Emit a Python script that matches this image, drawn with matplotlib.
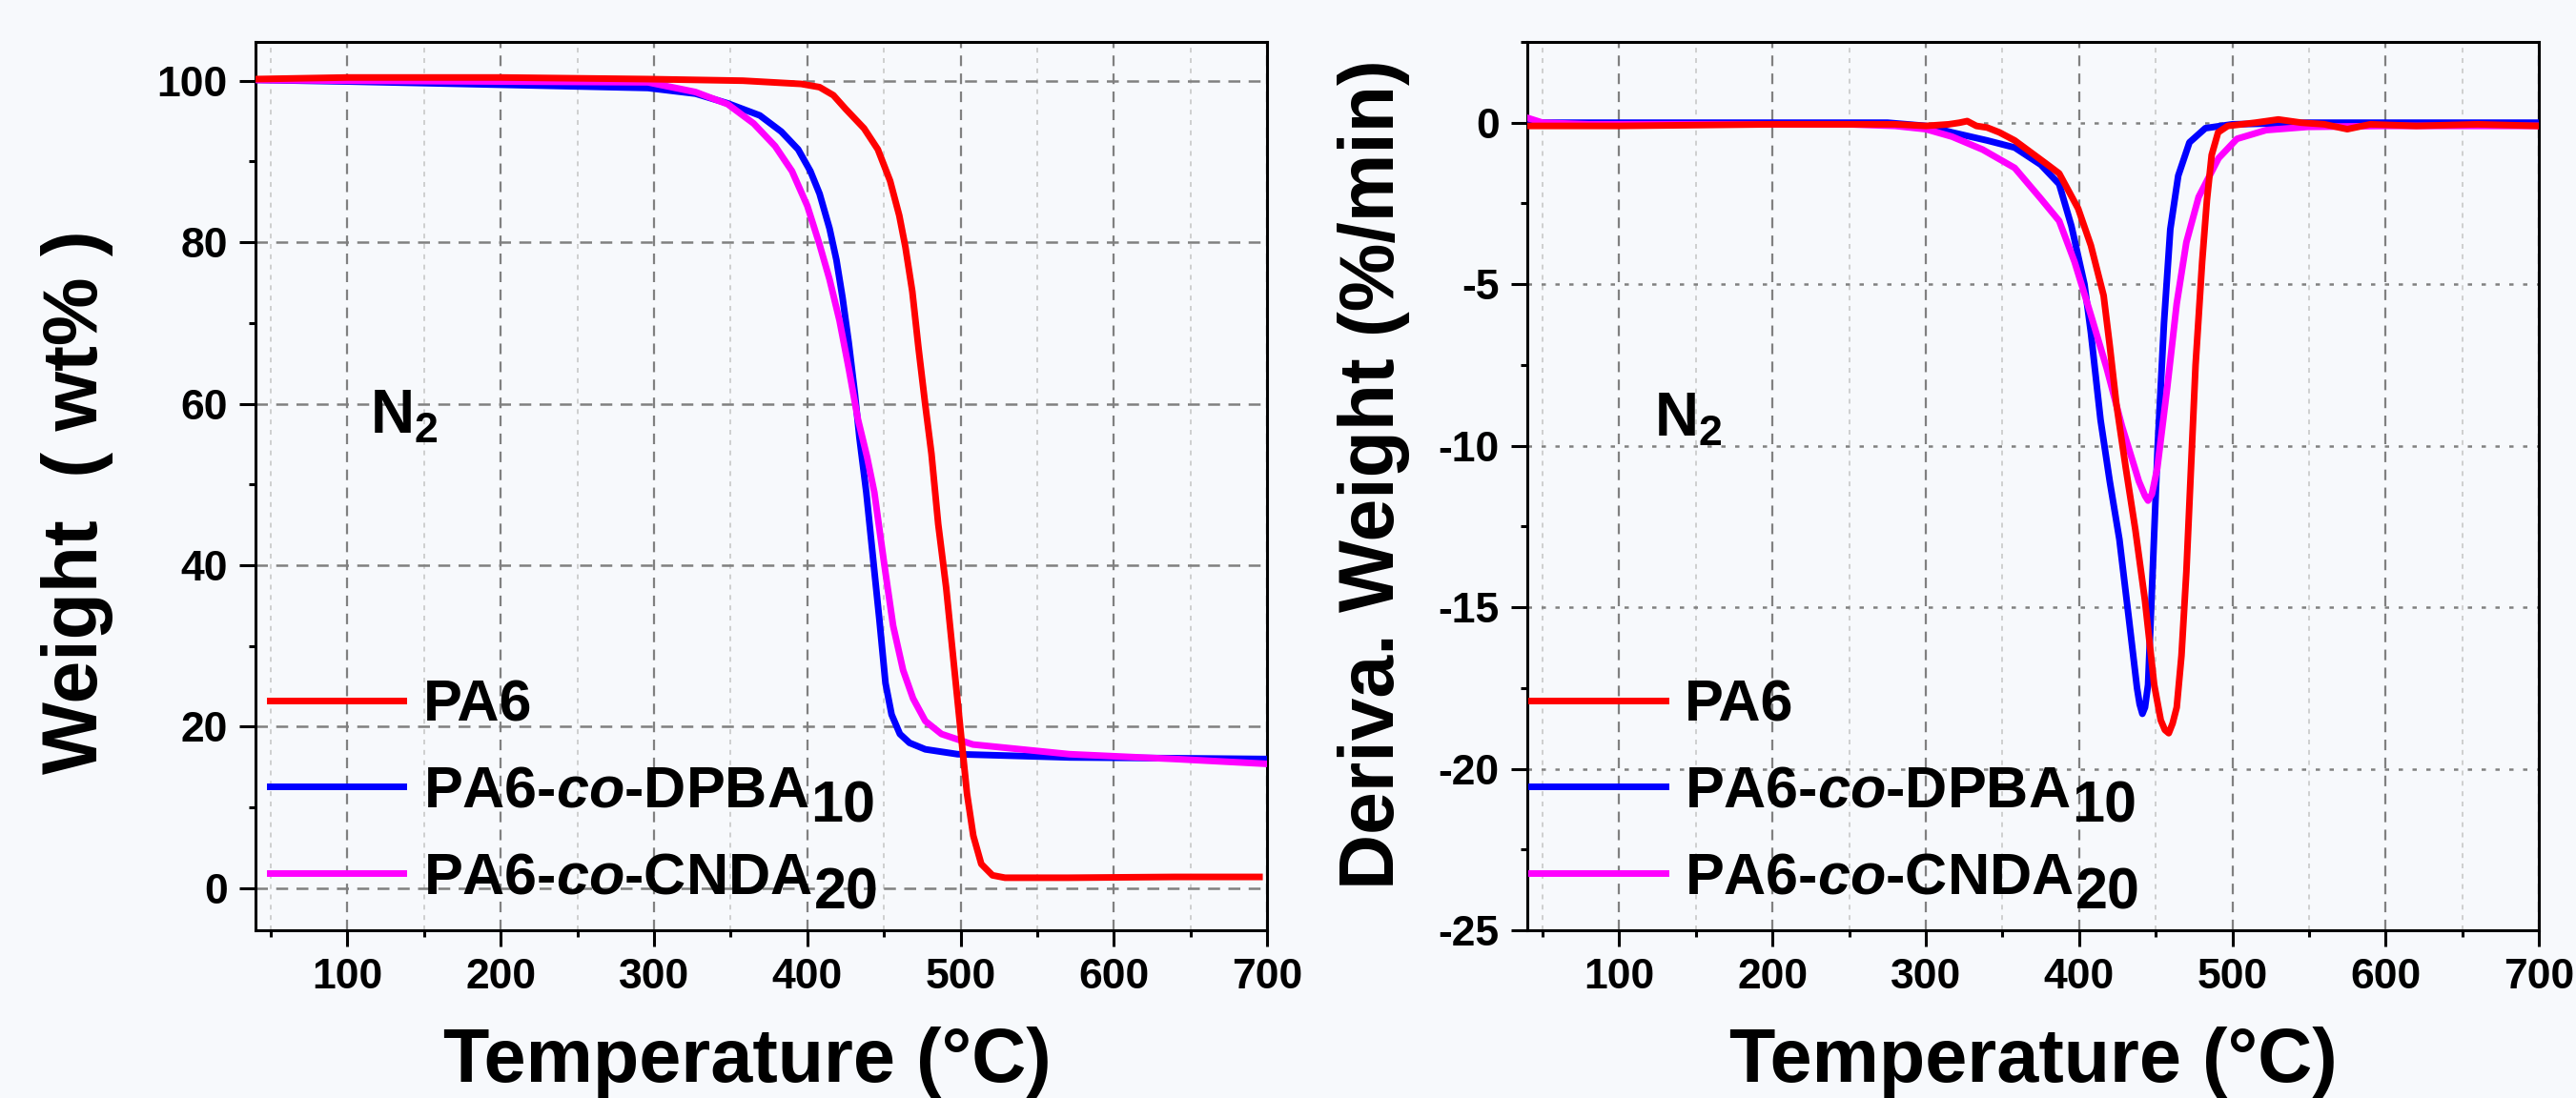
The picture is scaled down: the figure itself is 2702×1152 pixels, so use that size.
import numpy as np
import matplotlib
matplotlib.use('Agg')
import matplotlib.pyplot as plt
from matplotlib.ticker import MultipleLocator

plt.rcParams['font.family'] = ['Liberation Sans', 'DejaVu Sans']
plt.rcParams['font.weight'] = 'bold'
plt.rcParams['axes.labelweight'] = 'bold'
plt.rcParams['axes.unicode_minus'] = False
plt.rcParams['mathtext.fontset'] = 'custom'
plt.rcParams['mathtext.rm'] = 'Liberation Sans:bold'
plt.rcParams['mathtext.it'] = 'Liberation Sans:italic:bold'
plt.rcParams['mathtext.bf'] = 'Liberation Sans:bold'

BG = '#f7f9fc'
colors = ['#ff0000', '#0000ff', '#ff00ff']
names = ['PA6', 'PA6-$\\mathit{co}$-DPBA', 'PA6-$\\mathit{co}$-CNDA']
subs = ['', '10', '20']

# TGA curves (weight %)
t_pa6 = [40, 100, 200, 296, 358, 396, 408, 417, 425, 437, 446, 454, 460, 464, 468.5, 472.6,
         476.8, 481, 485.4, 490.6, 495.8, 500, 504.2, 508.3, 513.5, 520.8, 529, 570, 640, 695]
w_pa6 = [100.2, 100.4, 100.4, 100.2, 100.0, 99.6, 99.2, 98.2, 96.5, 94.1, 91.5, 87.6, 83.3,
         79.4, 73.9, 66.8, 60.1, 53.8, 45.1, 37.2, 27.4, 19.5, 11.7, 6.5, 3.0, 1.6, 1.3, 1.3,
         1.4, 1.4]

t_dpba = [40, 100, 200, 296, 327, 348, 369, 383, 394, 402, 408, 414.5, 419, 423, 427, 431,
          434, 438.5, 442.7, 447, 451, 455, 460.4, 466.7, 477, 498, 571, 640, 700]
w_dpba = [100.1, 99.9, 99.5, 99.1, 98.4, 97.2, 95.7, 93.7, 91.5, 88.8, 86.0, 81.7, 77.8, 73.1,
          67.6, 61.3, 55.8, 49.0, 41.2, 33.3, 25.4, 21.5, 19.1, 18.0, 17.2, 16.6, 16.2, 16.1,
          16.0]

t_cnda = [40, 100, 200, 296, 327, 348, 365, 379, 390, 400, 408, 414.5, 421, 427, 433, 439,
          443.75, 450, 456, 462.5, 469, 477, 487.5, 508, 571, 640, 700]
w_cnda = [100.1, 100.0, 99.9, 99.8, 98.6, 97.1, 94.7, 91.9, 88.8, 84.5, 79.7, 75.4, 70.3, 64.4,
          58.1, 53.4, 49.0, 40.4, 32.5, 27.0, 23.5, 20.7, 19.1, 17.8, 16.6, 16.0, 15.4]

# DTG curves (%/min)
td_pa6 = [40, 100, 200, 280, 300, 315, 322, 327, 333, 340, 348, 358, 368, 378, 387, 399.4,
          407.7, 416, 420, 424.3, 430.5, 436.7, 443, 449, 453.3, 456, 458.5, 461, 463.7, 466.8,
          470, 473, 476, 480.3, 483.4, 486.5, 490.7, 497, 515, 530, 545, 560, 575, 590, 620,
          660, 700]
d_pa6 = [-0.1, -0.1, -0.05, -0.05, -0.1, -0.05, 0.0, 0.05, -0.1, -0.15, -0.3, -0.55, -0.9,
         -1.25, -1.57, -2.66, -3.8, -5.35, -6.9, -8.7, -10.7, -12.6, -14.8, -17.4, -18.5,
         -18.8, -18.9, -18.6, -18.1, -16.5, -13.9, -10.7, -7.5, -4.3, -2.4, -1.0, -0.3, -0.1,
         0.0, 0.1, 0.0, -0.05, -0.2, -0.05, -0.1, -0.05, -0.1]

td_dpba = [40, 100, 200, 275, 300, 317, 340, 358, 375, 387, 395, 403.5, 407.7, 414, 420,
           426.3, 432.6, 437.8, 439.5, 441.3, 443, 445, 448, 451.2, 455.4, 459.5, 464.7, 472,
           482.4, 500, 550, 600, 700]
d_dpba = [0.0, 0.0, 0.0, 0.0, -0.1, -0.3, -0.55, -0.77, -1.3, -1.9, -3.2, -5.0, -6.5, -9.2,
          -11.1, -12.9, -15.4, -17.5, -18.0, -18.3, -18.1, -17.4, -13.9, -10.1, -6.2, -3.3,
          -1.64, -0.61, -0.17, -0.05, 0.0, 0.0, 0.0]

td_cnda = [40, 50, 80, 150, 250, 280, 300, 317, 337, 358, 375, 387, 397, 408, 418, 428, 439,
           443, 445, 447.5, 451, 457.5, 463.7, 470, 478, 491, 503, 522, 549, 600, 700]
d_cnda = [0.15, 0.0, -0.05, -0.05, -0.05, -0.1, -0.2, -0.43, -0.83, -1.4, -2.35, -3.04, -4.3,
          -6.0, -7.6, -9.4, -11.1, -11.55, -11.7, -11.5, -10.7, -8.2, -5.6, -3.7, -2.3, -1.1,
          -0.5, -0.23, -0.13, -0.1, -0.1]


def style_axis(ax, hgrid_ls):
    ax.set_facecolor(BG)
    ax.set_xlim(40, 700)
    ax.xaxis.set_major_locator(MultipleLocator(100))
    ax.xaxis.set_minor_locator(MultipleLocator(50))
    for s in ax.spines.values():
        s.set_linewidth(2.2)
    ax.tick_params(which='major', direction='out', length=12, width=2.2, labelsize=32, pad=9)
    ax.tick_params(which='minor', direction='out', length=5, width=2.2)
    ax.grid(which='major', axis='x', color='#808080', lw=1.6, ls=(0, (5, 3.5)))
    ax.grid(which='minor', axis='x', color='#c8c8c8', lw=1.2, ls=(0, (3, 3.5)))
    ax.grid(which='major', axis='y', color='#808080', lw=1.8, ls=hgrid_ls)
    ax.set_axisbelow(True)
    ax.set_xlabel('Temperature (°C)', fontsize=57, fontweight='bold')


def add_legend(ax, lines, x0):
    leg = ax.legend(lines, names, loc='upper left', bbox_to_anchor=(x0, 0.283),
                    frameon=False, fontsize=44, handlelength=2.3, handletextpad=0.33,
                    labelspacing=0.55, borderpad=0, borderaxespad=0)
    for h in leg.get_lines():
        h.set_linewidth(5)
    return leg


fig = plt.figure(figsize=(27.02, 11.52), dpi=100, facecolor=BG)
ax1 = fig.add_axes([0.0992, 0.1528, 0.3927, 0.809])
ax2 = fig.add_axes([0.5929, 0.1528, 0.3927, 0.809])

# left: TGA
style_axis(ax1, (0, (5, 3.5)))
ax1.set_ylim(-5.2, 104.8)
ax1.yaxis.set_major_locator(MultipleLocator(20))
ax1.yaxis.set_minor_locator(MultipleLocator(10))
l2, = ax1.plot(t_dpba, w_dpba, color=colors[1], lw=5, zorder=3)
l3, = ax1.plot(t_cnda, w_cnda, color=colors[2], lw=5, zorder=4)
l1, = ax1.plot(t_pa6, w_pa6, color=colors[0], lw=5, zorder=5)
ax1.set_ylabel('Weight  ( wt% )', fontsize=58, fontweight='bold')
ax1.xaxis.set_label_coords(0.486, -0.108)
ax1.yaxis.set_label_coords(-0.140, 0.482)
ax1.text(114.6, 56.3, r'$\mathbf{N_2}$', fontsize=46)
leg1 = add_legend(ax1, [l1, l2, l3], 0.014)

# right: DTG
style_axis(ax2, (0, (1.8, 4)))
ax2.set_ylim(-25, 2.5)
ax2.yaxis.set_major_locator(MultipleLocator(5))
ax2.yaxis.set_minor_locator(MultipleLocator(2.5))
m2, = ax2.plot(td_dpba, d_dpba, color=colors[1], lw=5, zorder=3)
m3, = ax2.plot(td_cnda, d_cnda, color=colors[2], lw=5, zorder=4)
m1, = ax2.plot(td_pa6, d_pa6, color=colors[0], lw=5, zorder=5)
ax2.set_ylabel('Deriva. Weight (%/min)', fontsize=58, fontweight='bold')
ax2.xaxis.set_label_coords(0.5, -0.108)
ax2.yaxis.set_label_coords(-0.116, 0.513)
ax2.text(122.8, -9.7, r'$\mathbf{N_2}$', fontsize=46)
leg2 = add_legend(ax2, [m1, m2, m3], 0.004)

# full-size subscripts after the legend names
fig.canvas.draw()
renderer = fig.canvas.get_renderer()
for leg in (leg1, leg2):
    for t, s in zip(leg.get_texts(), subs):
        if not s:
            continue
        bb = t.get_window_extent(renderer)
        _, _, d_lp = renderer.get_text_width_height_descent('lp', t.get_fontproperties(), ismath=False)
        base = bb.y0 + d_lp
        x, y = fig.transFigure.inverted().transform((bb.x1 + 2, base - 16))
        fig.text(x, y, s, fontsize=44, va='baseline', ha='left')

fig.savefig('out.png', dpi=100, facecolor=BG)
